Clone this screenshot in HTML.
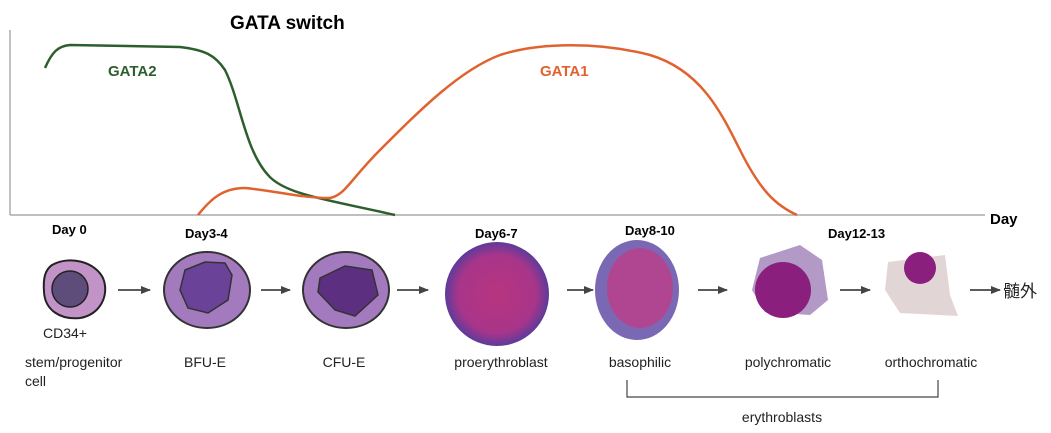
<!DOCTYPE html>
<html><head><meta charset="utf-8"><style>
body{margin:0;background:#fff;}
svg{display:block;font-family:"Liberation Sans","Noto Sans CJK JP",sans-serif;}
</style></head><body>
<svg width="1051" height="433" viewBox="0 0 1051 433" xmlns="http://www.w3.org/2000/svg">
<defs>
<marker id="ah" markerWidth="10" markerHeight="8" refX="9" refY="4" orient="auto" markerUnits="userSpaceOnUse"><path d="M0,0 L10,4 L0,8 z" fill="#444"/></marker>
<radialGradient id="pro" cx="50%" cy="50%" r="50%"><stop offset="0" stop-color="#b8357f"/><stop offset="0.75" stop-color="#a8358a"/><stop offset="1" stop-color="#5d3b9a"/></radialGradient>
</defs>
<line x1="10" y1="30" x2="10" y2="215" stroke="#999" stroke-width="1.2"/>
<line x1="10" y1="215" x2="985" y2="215" stroke="#999" stroke-width="1.2"/>
<text x="990" y="224" font-size="15" font-weight="bold">Day</text>
<text x="230" y="29" font-size="19" font-weight="bold">GATA switch</text>
<text x="108" y="76" font-size="15" font-weight="bold" fill="#2e5e2e">GATA2</text>
<text x="540" y="76" font-size="15" font-weight="bold" fill="#e0622f">GATA1</text>
<path d="M45,68 C52,52 58,46 70,45 L180,47 C205,50 215,55 225,70 C240,100 245,150 268,175 C285,195 330,200 395,215" fill="none" stroke="#2e5e2e" stroke-width="2.5"/>
<path d="M198,215 C210,200 222,188 245,188 C270,190 300,198 330,198 C345,195 350,180 380,150 C420,110 460,70 500,55 C540,42 600,42 650,55 C700,70 720,110 740,150 C760,190 775,205 797,215" fill="none" stroke="#e0622f" stroke-width="2.5"/>
<g font-size="13" font-weight="bold">
<text x="52" y="234">Day 0</text><text x="185" y="238">Day3-4</text><text x="475" y="238">Day6-7</text><text x="625" y="235">Day8-10</text><text x="828" y="238">Day12-13</text>
</g>
<path d="M52,265 C70,255 95,262 103,278 C110,295 100,315 80,318 C60,320 45,310 44,292 C43,278 45,270 52,265z" fill="#c293c7" stroke="#222" stroke-width="2"/>
<circle cx="70" cy="289" r="18" fill="#5e4d7a" stroke="#222" stroke-width="1.5"/>
<ellipse cx="207" cy="290" rx="43" ry="38" fill="#a47abf" stroke="#333" stroke-width="2"/>
<path d="M185,270 L205,262 L225,263 L232,275 L228,300 L208,313 L188,308 L180,290z" fill="#6a4298" stroke="#333" stroke-width="1.5"/>
<ellipse cx="346" cy="290" rx="43" ry="38" fill="#a47abf" stroke="#333" stroke-width="2"/>
<path d="M320,278 L345,266 L372,270 L378,295 L355,316 L335,310 L318,292z" fill="#5c2f80" stroke="#333" stroke-width="1.5"/>
<circle cx="497" cy="294" r="52" fill="url(#pro)"/>
<ellipse cx="637" cy="290" rx="42" ry="50" fill="#7b68b4"/>
<ellipse cx="640" cy="288" rx="33" ry="40" fill="#b04592"/>
<path d="M760,258 L800,245 L822,260 L828,300 L810,315 L765,312 L752,290z" fill="#b299c6"/>
<circle cx="783" cy="290" r="28" fill="#8a1f7e"/>
<path d="M888,262 L945,255 L950,295 L958,316 L900,313 L885,290z" fill="#e2d5d6"/>
<circle cx="920" cy="268" r="16" fill="#8a1f7e"/>
<g stroke="#444" stroke-width="1.8" marker-end="url(#ah)">
<line x1="118" y1="290" x2="150" y2="290"/><line x1="261" y1="290" x2="290" y2="290"/><line x1="397" y1="290" x2="428" y2="290"/>
<line x1="567" y1="290" x2="593" y2="290"/><line x1="698" y1="290" x2="727" y2="290"/><line x1="840" y1="290" x2="870" y2="290"/><line x1="970" y1="290" x2="1000" y2="290"/>
</g>
<text x="1003" y="297" font-size="17" fill="#222">髄外</text>
<g font-size="14" fill="#222">
<text x="43" y="338">CD34+</text>
<text x="25" y="367">stem/progenitor</text><text x="25" y="386">cell</text>
<g text-anchor="middle">
<text x="205" y="367">BFU-E</text><text x="344" y="367">CFU-E</text><text x="501" y="367">proerythroblast</text>
<text x="640" y="367">basophilic</text><text x="788" y="367">polychromatic</text><text x="931" y="367">orthochromatic</text>
<text x="782" y="422">erythroblasts</text>
</g></g>
<path d="M627,380 V397 H938 V380" fill="none" stroke="#444" stroke-width="1.2"/>
</svg>
</body></html>
